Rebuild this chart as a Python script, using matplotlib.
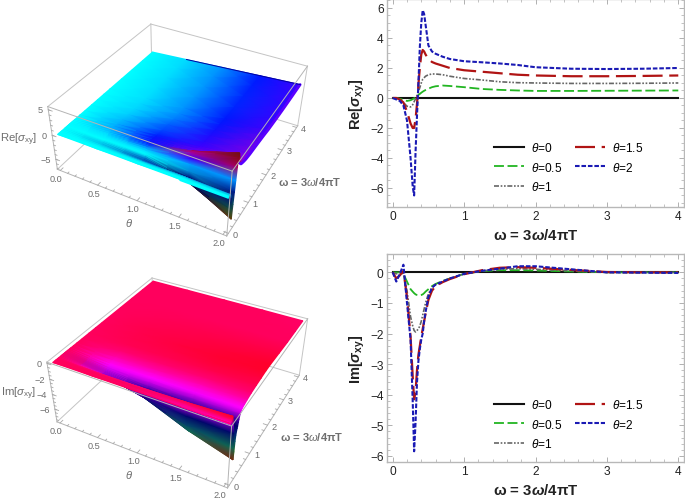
import numpy as np
import matplotlib
matplotlib.use("Agg")
import matplotlib.pyplot as plt
from matplotlib.colors import LinearSegmentedColormap, Normalize
from matplotlib.ticker import MultipleLocator

plt.rcParams['font.family'] = ['Liberation Sans', 'DejaVu Sans']
plt.rcParams['mathtext.fontset'] = 'custom'
plt.rcParams['mathtext.rm'] = 'Liberation Sans'
plt.rcParams['mathtext.it'] = 'Liberation Sans:italic'
plt.rcParams['mathtext.bf'] = 'Liberation Sans:bold'
plt.rcParams['mathtext.bfit'] = 'Liberation Sans:italic:bold'

W, H = 685, 502

# data
omega = [0, .05, .1, .15, .2, .25, .28, .3, .32, .34, .36, .38, .4, .42, .44, .46, .5, .55, .6, .7, .8,
         1, 1.25, 1.5, 1.75, 2, 2.5, 3, 3.5, 4]
thetas = [0, 0.5, 1, 1.5, 2]

re_0 = [0] * len(omega)
re_05 = [0, 0, -.05, -.12, -.2, -.15, -.08, -.02, .05, .12, .2, .27, .35, .42, .48, .53, .62, .72, .78, .83, .8,
         .72, .6, .54, .5, .47, .47, .48, .49, .5]
re_1 = [0, 0, -.1, -.3, -.55, -.6, -.45, -.25, -.05, .15, .4, .7, 1.0, 1.25, 1.35, 1.45, 1.55, 1.6, 1.6, 1.55, 1.45,
        1.3, 1.2, 1.08, 1.02, 1.0, .97, .97, .98, 1.0]
re_15 = [0, 0, -.1, -.3, -.9, -1.7, -2.0, -2.0, -1.4, -.4, .9, 2.0, 2.9, 3.2, 3.1, 2.9, 2.6, 2.4, 2.3, 2.15, 2.0,
         1.85, 1.75, 1.65, 1.55, 1.5, 1.45, 1.45, 1.47, 1.5]
re_2 = [0, -.1, -.2, -.5, -1.5, -4.0, -5.9, -6.5, -3.6, -1.2, 1.0, 3.4, 5.0, 5.85, 5.6, 4.9, 3.5, 3.1, 2.95, 2.75, 2.6,
        2.45, 2.38, 2.3, 2.2, 2.05, 1.95, 1.93, 1.95, 2.0]

im_0 = [0] * len(omega)
im_05 = [0, 0, 0, -.05, -.3, -.55, -.63, -.68, -.72, -.74, -.75, -.75, -.74, -.72, -.68, -.63, -.55, -.45, -.38, -.28, -.2,
         -.05, .04, .07, .07, .06, .03, 0, 0, 0]
im_1 = [0, -.05, 0, -.05, -.6, -1.45, -1.75, -1.9, -1.95, -1.9, -1.85, -1.75, -1.6, -1.4, -1.2, -1.0, -.7, -.5, -.4, -.3, -.2,
        -.05, .05, .1, .12, .1, .05, 0, 0, 0]
im_15 = [0, -.2, -.1, .05, -.8, -2.1, -3.4, -4.15, -3.9, -3.2, -2.7, -2.4, -2.1, -1.85, -1.6, -1.35, -.9, -.6, -.45, -.32, -.22,
         -.06, .07, .15, .17, .15, .08, .01, 0, 0]
im_2 = [0, -.3, -.05, .25, -1.0, -2.2, -4.2, -5.85, -4.9, -3.6, -2.9, -2.5, -2.2, -2.0, -1.6, -1.3, -.8, -.5, -.4, -.3, -.2,
        -.05, .05, .12, .2, .2, .1, 0, -.01, -.02]

re_series = [re_0, re_05, re_1, re_15, re_2]
im_series = [im_0, im_05, im_1, im_15, im_2]
labels = ["$\\theta$=0", "$\\theta$=0.5", "$\\theta$=1", "$\\theta$=1.5", "$\\theta$=2"]
styles = [dict(color='#111111', lw=1.5, ls='-'),
          dict(color='#22b522', lw=1.3, ls=(0, (5.5, 2))),
          dict(color='#666666', lw=1.2, ls=(0, (3, 1, 1, 1, 1, 1))),
          dict(color='#b01414', lw=1.6, ls=(0, (9, 3))),
          dict(color='#1a1ab4', lw=1.5, ls=(0, (2.2, 0.9)))]

# colour by height, like the Hue colouring of the 3D plots
re_anchors = [(-6.5, '#704010'), (-5, '#1f5a10'), (-3.5, '#0a4a5a'), (-2, '#00004f'), (-.9, '#0020a0'),
              (-.3, '#00a0e0'), (0, '#00ffff'), (.5, '#00dcff'), (1, '#0090ff'), (1.5, '#0018ff'), (2, '#3c00ff'),
              (2.6, '#9000e0'), (3.2, '#b00070'), (4.2, '#a00020'), (5.85, '#701010')]
im_anchors = [(-5.85, '#7a2a10'), (-5, '#2a6a10'), (-4, '#0a6a60'), (-3, '#003070'), (-2, '#00006a'),
              (-1.2, '#5000b0'), (-.4, '#ff00ff'), (0, '#ff0060'), (.25, '#ff0020')]


def make_cmap(anchors, name):
    lo, hi = anchors[0][0], anchors[-1][0]
    stops = [((z - lo) / (hi - lo), c) for z, c in anchors]
    return LinearSegmentedColormap.from_list(name, stops, N=512), Normalize(lo, hi)


def fit_camera(corners, screen):
    """camera matrix from box corners and where they sit in the picture"""
    rows, rhs = [], []
    for (x, y, z), (u, v) in zip(corners, screen):
        rows.append([x, y, z, 1, 0, 0, 0, 0, -u * x, -u * y, -u * z])
        rows.append([0, 0, 0, 0, x, y, z, 1, -v * x, -v * y, -v * z])
        rhs += [u, v]
    p = np.linalg.lstsq(np.array(rows, float), np.array(rhs, float), rcond=None)[0]
    return np.append(p, 1).reshape(3, 4)


def panel(ax, series, anchors, zlim, screen, zticks, zminor, zlabel, name):
    t0, t1, w0, w1 = -0.04, 2.04, -0.08, 4.08
    z0, z1 = zlim
    corners = [(t0, w0, z1), (t1, w1, z1), (t0, w1, z1), (t1, w0, z1), (t0, w0, z0), (t1, w0, z0), (t1, w1, z0)]
    cam = fit_camera(corners, screen)

    def proj(t, w, z):
        t, w, z = np.broadcast_arrays(np.asarray(t, float), np.asarray(w, float), np.asarray(z, float))
        d = cam[2, 0] * t + cam[2, 1] * w + cam[2, 2] * z + cam[2, 3]
        return ((cam[0, 0] * t + cam[0, 1] * w + cam[0, 2] * z + cam[0, 3]) / d,
                (cam[1, 0] * t + cam[1, 1] * w + cam[1, 2] * z + cam[1, 3]) / d)

    # back edges go under the surface
    for a, b in [((t0, w1, z0), (t0, w1, z1)), ((t0, w0, z0), (t0, w1, z0)), ((t0, w1, z0), (t1, w1, z0)),
                 ((t0, w1, z1), (t1, w1, z1)), ((t0, w0, z1), (t0, w1, z1)), ((t1, w1, z0), (t1, w1, z1))]:
        x, y = proj([a[0], b[0]], [a[1], b[1]], [a[2], b[2]])
        ax.plot(x, y, color='#c4c4c4', lw=0.7, zorder=1)

    # surface, rows far to near so later triangles cover earlier ones
    om = np.array(omega)[::-1]
    th = np.array(thetas)
    zz = np.array(series, float)[:, ::-1].T
    tt, ww = np.meshgrid(th, om)
    px, py = proj(tt, ww, zz)
    cmap, norm = make_cmap(anchors, name)
    ax.pcolormesh(px, py, zz, cmap=cmap, norm=norm, shading='gouraud', zorder=2)

    # front edges on top of it
    for a, b in [((t0, w0, z1), (t1, w0, z1)), ((t1, w0, z1), (t1, w1, z1)), ((t1, w0, z0), (t1, w0, z1)),
                 ((t0, w0, z0), (t1, w0, z0)), ((t1, w0, z0), (t1, w1, z0)), ((t0, w0, z0), (t0, w0, z1))]:
        x, y = proj([a[0], b[0]], [a[1], b[1]], [a[2], b[2]])
        ax.plot(x, y, color='#b4b4b4', lw=0.7, zorder=4)

    tick_kw = dict(color='#a8a8a8', lw=0.6, zorder=4)
    text_kw = dict(color='#6e6e6e', fontsize=6.6, ha='center', va='center')
    for t in np.arange(0, 2.01, 0.1):
        major = abs(t * 2 - round(t * 2)) < 1e-6
        x, y = proj([t, t], [w0, w0 + (0.1 if major else 0.05)], [z0, z0])
        ax.plot(x, y, **tick_kw)
        if major:
            x, y = proj(t, w0, z0)
            ax.text(x - 4, y + 8, f"{t:.1f}", **text_kw)
    for w in np.arange(0, 4.01, 0.2):
        major = abs(w - round(w)) < 1e-6
        x, y = proj([t1, t1 - (0.05 if major else 0.025)], [w, w], [z0, z0])
        ax.plot(x, y, **tick_kw)
        if major:
            x, y = proj(t1, w, z0)
            ax.text(x + 7, y + 1, f"{w:.0f}", **text_kw)
    for z in zminor:
        x, y = proj([t0, t0 + 0.025], [w0, w0], [z, z])
        ax.plot(x, y, **tick_kw)
    for z in zticks:
        x, y = proj([t0, t0 + 0.05], [w0, w0], [z, z])
        ax.plot(x, y, **tick_kw)
        x, y = proj(t0, w0, z)
        ax.text(x - 5, y, f"{z:.0f}".replace('-', '\u2212'), color='#6e6e6e', fontsize=6.6, ha='right', va='center')

    x, y = proj(t0, w0, (z0 + z1) / 2)
    ax.text(19, y, zlabel, color='#6e6e6e', fontsize=8.2, ha='center', va='center')
    x, y = proj(1.0, w0, z0)
    ax.text(x - 8, y + 21, "$\\theta$", color='#6e6e6e', fontsize=8, ha='center', va='center')
    return proj


fig = plt.figure(figsize=(W / 100, H / 100), dpi=100)

ax3 = fig.add_axes([0, 0, 1, 1])
ax3.set_xlim(0, W)
ax3.set_ylim(H, 0)
ax3.axis('off')

proj_re = panel(ax3, re_series, re_anchors, (-7.2, 5.6),
                [(48, 108), (308, 67), (151, 25), (231, 172), (57, 170), (228, 237), (297, 127)],
                [-5, 0, 5], np.arange(-7, 5.5, 1.0), "Re[$\\sigma_{\\mathrm{xy}}$]", "re")
proj_im = panel(ax3, im_series, im_anchors, (-7.8, 0.15),
                [(47, 363), (308, 320), (152, 279), (231, 427), (57, 423), (228, 489), (299, 376)],
                [-6, -4, -2, 0], np.arange(-7.5, 0.1, 0.5), "Im[$\\sigma_{\\mathrm{xy}}$]", "im")

# violet rim, dark far edge and cyan strip at the front of the Re surface
rim = np.array(omega) >= 0.5
x, y = proj_re(2.0, np.array(omega)[rim], np.array(re_2)[rim])
ax3.plot(x, y, color='#5a00ff', lw=2.0, zorder=3, solid_capstyle='round')
x, y = proj_re(np.array(thetas)[1:], omega[-1], np.array([s[-1] for s in re_series])[1:])
ax3.plot(x, y, color='#0000a0', lw=0.7, zorder=3)
x, y = proj_re(np.array(thetas)[3:], 0.0, np.array([s[0] for s in re_series])[3:])
ax3.plot(x, y, color='#00ffff', lw=2.2, zorder=3)

ax3.text(310, 182, "\u03c9 = 3$\\omega$/4\u03c0T", color='#6e6e6e', fontsize=8, ha='center', va='center', fontweight='bold')
ax3.text(312, 437, "\u03c9 = 3$\\omega$/4\u03c0T", color='#6e6e6e', fontsize=8, ha='center', va='center', fontweight='bold')


def line_panel(rect, series, ylim, ymajor, yminor, ylabel, legend_anchor):
    left, top, right, bottom = rect
    ax = fig.add_axes([left / W, 1 - bottom / H, (right - left) / W, (bottom - top) / H])
    for vals, lab, st in zip(series, labels, styles):
        ax.plot(omega, vals, label=lab, **st)
    ax.set_xlim(-0.08, 4.08)
    ax.set_ylim(*ylim)
    ax.xaxis.set_major_locator(MultipleLocator(1))
    ax.xaxis.set_minor_locator(MultipleLocator(0.2))
    ax.yaxis.set_major_locator(MultipleLocator(ymajor))
    ax.yaxis.set_minor_locator(MultipleLocator(yminor))
    ax.tick_params(which='major', direction='in', length=3.5, width=0.7, color='#b0b0b0', labelsize=8.6, labelcolor='#222222', pad=2.5)
    ax.tick_params(which='minor', direction='in', length=2, width=0.6, color='#b8b8b8')
    ax.tick_params(which='both', top=True, right=True)
    for sp in ax.spines.values():
        sp.set_color('#b8b8b8')
        sp.set_linewidth(1.0)
    ax.set_xlabel("\u03c9 = 3$\\mathbfit{\\omega}$/4\u03c0T", fontsize=10.8, fontweight='bold', color='#222222', labelpad=3)
    ax.set_ylabel(ylabel, fontsize=10.5, fontweight='bold', color='#222222', labelpad=2)
    ax.legend(ncol=2, frameon=False, fontsize=8.6, loc='lower left', bbox_to_anchor=legend_anchor,
              handlelength=2.5, columnspacing=1.0, handletextpad=0.6, labelspacing=0.55)
    return ax


line_panel((387, 0, 684, 208), re_series, (-7.27, 6.6), 2, 0.5, "Re[$\\mathbfit{\\sigma}_{\\mathbf{xy}}$]", (0.325, 0.015))
line_panel((387, 255, 684, 463), im_series, (-6.2, 0.6), 1, 0.2, "Im[$\\mathbfit{\\sigma}_{\\mathbf{xy}}$]", (0.325, 0.005))

fig.savefig("out.png", dpi=100)
